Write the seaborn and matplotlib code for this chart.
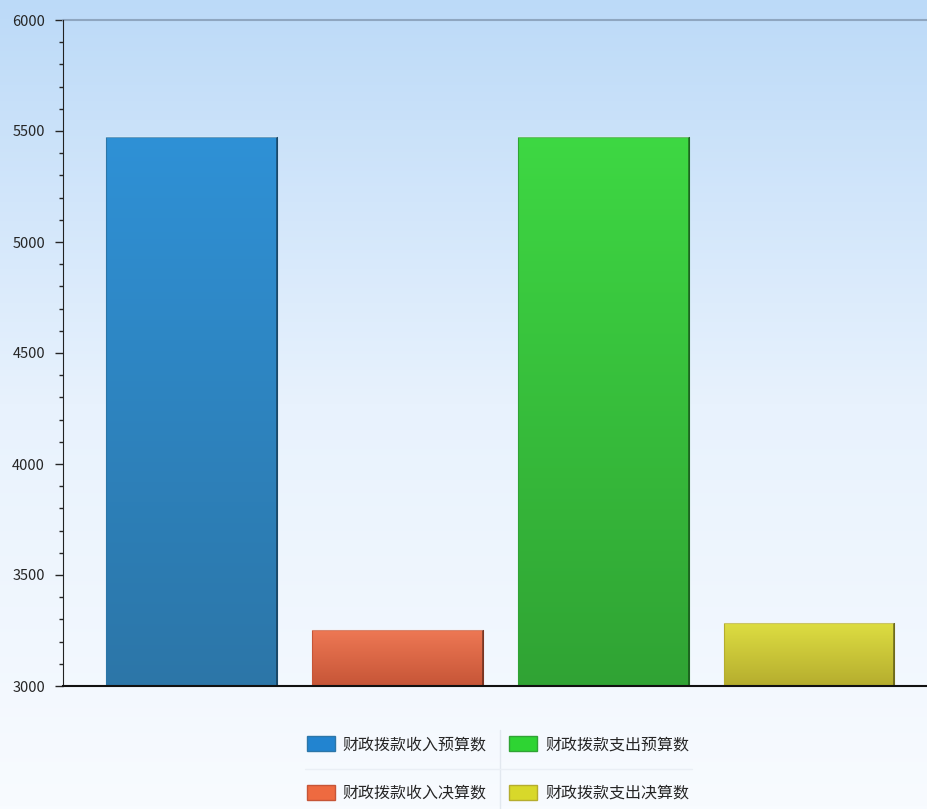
import numpy as np
import pandas as pd
import matplotlib
matplotlib.use("Agg")
import matplotlib.pyplot as plt
import seaborn as sns
from matplotlib.colors import LinearSegmentedColormap
from matplotlib.patches import Patch

categories = ["财政拨款收入预算数", "财政拨款收入决算数", "财政拨款支出预算数", "财政拨款支出决算数"]
values = [5473, 3252, 5473, 3284]
top_colors = ["#2f91d6", "#ee7854", "#3ed843", "#dede42"]
bottom_colors = ["#2c76a8", "#c65537", "#30a334", "#b5ad2e"]
legend_colors = ["#2284d0", "#ee6a40", "#2ed433", "#d8d82a"]

sns.set_style("white")
plt.rcParams['font.family'] = ['Noto Sans CJK SC', 'DejaVu Sans']

fig = plt.figure(figsize=(9.28, 8.09), dpi=100)
bg = fig.add_axes([0, 0, 1, 1], zorder=-10)
grad = np.linspace(0, 1, 256).reshape(-1, 1)
bg_cmap = LinearSegmentedColormap.from_list("bg", ["#bcdaf8", "#e8f2fd", "#f8fbff"])
bg.imshow(grad, aspect="auto", cmap=bg_cmap, extent=[0, 1, 0, 1], origin="upper")
bg.axis("off")

ax = fig.add_axes([63/928, 1-686/809, 1-63/928, (686-20)/809])
ax.patch.set_alpha(0)
df = pd.DataFrame({"cat": categories, "val": values})
sns.barplot(data=df, x="cat", y="val", hue="cat", palette=top_colors, width=0.83,
            ax=ax, legend=False, saturation=1)
ax.set_ylim(3000, 6000)
ax.set_xlim(-0.624, 3.578)

for p, tc, bc in zip(ax.patches, top_colors, bottom_colors):
    x0, y0 = p.get_x(), 3000
    w, h = p.get_width(), p.get_height()
    cm = LinearSegmentedColormap.from_list("g", [tc, bc])
    im = ax.imshow(grad, aspect="auto", cmap=cm, extent=[x0, x0 + w, y0, h], origin="upper", zorder=2)
    im.set_clip_path(p)
    p.set_facecolor("none")
    p.set_edgecolor(bc)
    p.set_linewidth(0.8)
    p.set_zorder(3)
    ax.plot([x0 + w, x0 + w], [y0, h], color=(0, 0, 0, 0.45), lw=1.2, zorder=4, solid_capstyle="butt")
    ax.plot([x0, x0 + w], [h, h], color=(1, 1, 1, 0.35), lw=1.2, zorder=4, solid_capstyle="butt")

ax.set_xlabel("")
ax.set_ylabel("")
ax.set_xticks([])
ax.set_yticks(np.arange(3000, 6001, 500))
ax.set_yticks(np.arange(3000, 6001, 100), minor=True)
ax.tick_params(axis="y", which="major", length=6, width=1, direction="out", left=True, labelsize=10.5, pad=7)
ax.tick_params(axis="y", which="minor", length=3, width=1, direction="out", left=True)
for s in ["right", "top"]:
    ax.spines[s].set_visible(False)
ax.spines["left"].set_color("#222222")
ax.spines["bottom"].set_color("#111111")
ax.spines["bottom"].set_linewidth(1.5)
ax.spines["bottom"].set_zorder(5)
ax.axhline(6000, color="#8fa6c0", lw=1.5, zorder=1, clip_on=False)

handles = [Patch(facecolor=c, edgecolor=b, label=l) for c, b, l in zip(legend_colors, bottom_colors, categories)]
leg = fig.legend(handles=handles, ncol=2, loc="center", bbox_to_anchor=(498/928, 1 - 769/809),
                 frameon=False, fontsize=11.5, handlelength=1.75, handleheight=1.0,
                 columnspacing=1.4, labelspacing=2.0, handletextpad=0.5)

# faint separators between legend entries
fig.lines.append(plt.Line2D([500/928, 500/928], [1 - 730/809, 1 - 809/809], transform=fig.transFigure,
                            color="#e2e8ef", lw=1))
fig.lines.append(plt.Line2D([305/928, 692/928], [1 - 769/809, 1 - 769/809], transform=fig.transFigure,
                            color="#eaeff5", lw=1))

fig.savefig("out.png", dpi=100)
